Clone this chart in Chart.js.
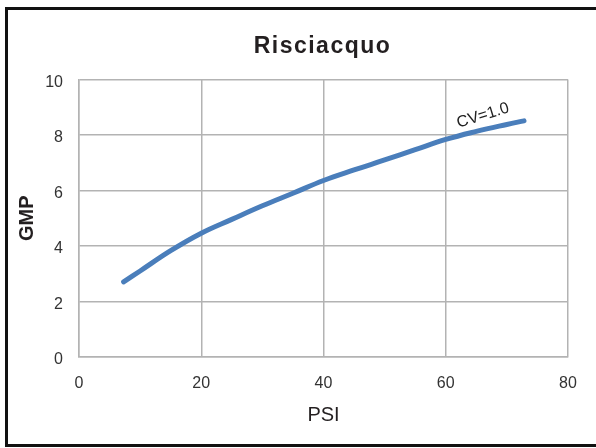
<!DOCTYPE html>
<html>
<head>
<meta charset="utf-8">
<script src="https://cdn.jsdelivr.net/npm/chart.js@4/dist/chart.umd.min.js"></script>
<style>
  html, body { margin: 0; padding: 0; background: #fff; }
  #wrap { position: relative; width: 596px; height: 448px; overflow: hidden; }
  canvas { display: block; }
</style>
</head>
<body>
<div id="wrap"><canvas id="c" width="596" height="448"></canvas></div>
<script>
const titleText = "Risciacquo";
const xAxisLabel = "PSI";
const yAxisLabel = "GMP";
const psi = [7.3, 10, 15, 20, 25, 30, 35, 40, 45, 50, 55, 60, 65, 70, 72.8];
const gmp = [2.71, 3.1, 3.83, 4.46, 4.96, 5.45, 5.9, 6.36, 6.74, 7.1, 7.47, 7.84, 8.13, 8.38, 8.51];
const curveLabel = "CV=1.0";
const curveLabelAt = [66.1, 8.7];

const points = psi.map((x, i) => ({ x: x, y: gmp[i] }));

const framePlugin = {
  id: 'frame',
  afterDraw(chart) {
    const ctx = chart.ctx;
    ctx.save();
    ctx.strokeStyle = '#111';
    ctx.lineWidth = 3;
    ctx.strokeRect(6.5, 8.5, 620, 437);
    ctx.restore();
  }
};

const titlePlugin = {
  id: 'centeredTitle',
  afterDraw(chart) {
    const ctx = chart.ctx;
    const a = chart.chartArea;
    ctx.save();
    ctx.font = 'bold 23px "Liberation Sans", Arial, sans-serif';
    if ('letterSpacing' in ctx) ctx.letterSpacing = '1.5px';
    ctx.textAlign = 'center';
    ctx.textBaseline = 'alphabetic';
    ctx.fillStyle = '#231f20';
    ctx.fillText(titleText, (a.left + a.right) / 2 - 1, 52.5);
    ctx.restore();
  }
};

const labelPlugin = {
  id: 'curveLabel',
  afterDatasetsDraw(chart) {
    const ctx = chart.ctx;
    const xs = chart.scales.x, ys = chart.scales.y;
    const px = xs.getPixelForValue(curveLabelAt[0]);
    const py = ys.getPixelForValue(curveLabelAt[1]);
    ctx.save();
    ctx.translate(px, py);
    ctx.rotate(-17 * Math.PI / 180);
    ctx.font = '16px "Liberation Sans", Arial, sans-serif';
    ctx.textAlign = 'center';
    ctx.textBaseline = 'middle';
    ctx.lineWidth = 4;
    ctx.strokeStyle = '#fff';
    ctx.lineJoin = 'round';
    ctx.strokeText(curveLabel, 0, 0);
    ctx.fillStyle = '#222';
    ctx.fillText(curveLabel, 0, 0);
    ctx.restore();
  }
};

new Chart(document.getElementById('c'), {
  type: 'scatter',
  data: {
    datasets: [{
      data: points,
      showLine: true,
      borderColor: '#4a7ebb',
      backgroundColor: '#4a7ebb',
      borderWidth: 5,
      pointRadius: 0,
      tension: 0.4,
      borderCapStyle: 'round'
    }]
  },
  options: {
    responsive: false,
    animation: false,
    devicePixelRatio: 1,
    layout: { padding: { top: 79.5, right: 28, bottom: 0, left: 0 } },
    plugins: {
      legend: { display: false },
      tooltip: { enabled: false },
      title: { display: false }
    },
    scales: {
      x: {
        type: 'linear',
        min: 0, max: 80,
        ticks: { stepSize: 20, color: '#333', padding: 17,
                 font: { family: '"Liberation Sans", Arial, sans-serif', size: 16 } },
        grid: { color: '#b3b3b3', lineWidth: 1.5, drawTicks: false },
        border: { color: '#b3b3b3', width: 1.5 },
        title: { display: true, text: xAxisLabel, color: '#231f20',
                 font: { family: '"Liberation Sans", Arial, sans-serif', size: 20 },
                 padding: { top: 0, bottom: 21 } },
        afterFit(s) { s.height = 91; }
      },
      y: {
        type: 'linear',
        min: 0, max: 10,
        ticks: { stepSize: 2, color: '#333', padding: 16, labelOffset: 3,
                 font: { family: '"Liberation Sans", Arial, sans-serif', size: 16 } },
        grid: { color: '#b3b3b3', lineWidth: 1.5, drawTicks: false },
        border: { color: '#b3b3b3', width: 1.5 },
        title: { display: true, text: yAxisLabel, color: '#231f20',
                 font: { family: '"Liberation Sans", Arial, sans-serif', size: 20, weight: 'bold' },
                 padding: { top: 15.5, bottom: 0 } },
        afterFit(s) { s.width = 79; }
      }
    }
  },
  plugins: [framePlugin, titlePlugin, labelPlugin]
});
</script>
</body>
</html>
